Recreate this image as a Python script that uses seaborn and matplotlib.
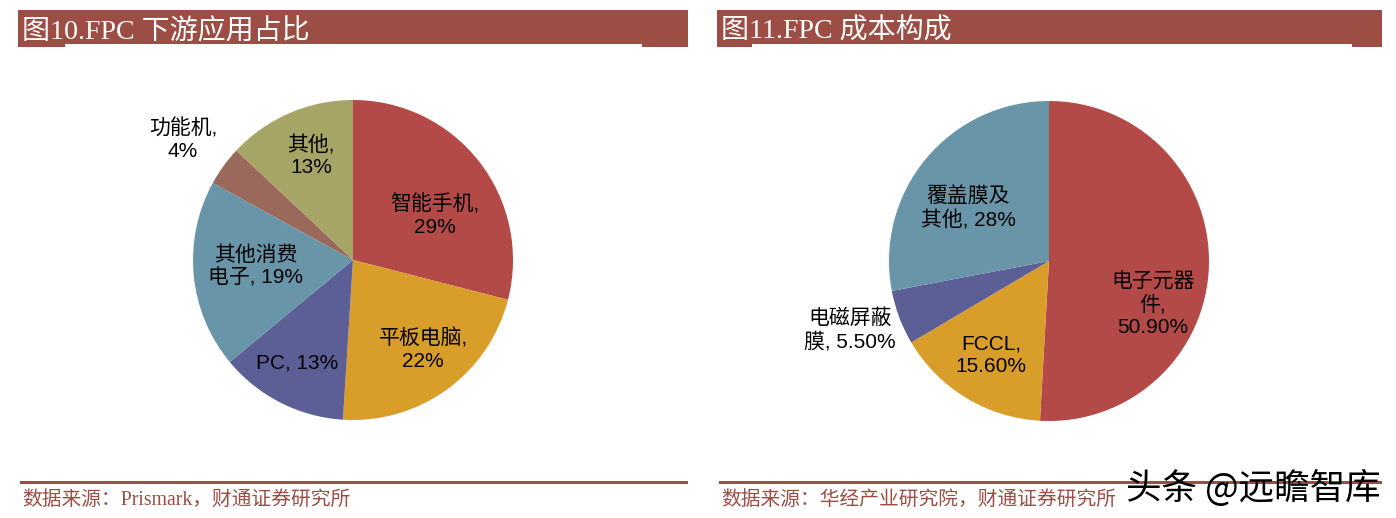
import matplotlib
matplotlib.use("Agg")
import matplotlib.pyplot as plt
import seaborn as sns
import numpy as np
from matplotlib.patches import Rectangle

# ---------------- data ----------------
app_labels = ["智能手机", "平板电脑", "PC", "其他消费电子", "功能机", "其他"]
app_values = [29, 22, 13, 19, 4, 13]
app_texts = ["智能手机,\n29%", "平板电脑,\n22%", "PC, 13%", "其他消费\n电子, 19%", "功能机,\n4%", "其他,\n13%"]

cost_labels = ["电子元器件", "FCCL", "电磁屏蔽膜", "覆盖膜及其他"]
cost_values = [50.9, 15.6, 5.5, 28.0]
cost_texts = ["电子元器\n件,\n50.90%", "FCCL,\n15.60%", "电磁屏蔽\n膜, 5.50%", "覆盖膜及\n其他, 28%"]

titles = ["图10.FPC 下游应用占比", "图11.FPC 成本构成"]
sources = ["数据来源：Prismark，财通证券研究所", "数据来源：华经产业研究院，财通证券研究所"]
watermark = "头条 @远瞻智库"

# ---------------- style ----------------
sns.set_theme(style="white")
plt.rcParams["font.family"] = ["Liberation Sans", "Noto Sans CJK SC", "DejaVu Sans"]

app_colors = sns.color_palette(["#B34A47", "#D99D29", "#5B5F96", "#6895A8", "#9B695B", "#A7A565"])
cost_colors = sns.color_palette(["#B34A47", "#D99D29", "#5B5F96", "#6895A8"])
BAR = "#9C4D44"

W, H, DPI = 1396, 518, 100
fig = plt.figure(figsize=(W / DPI, H / DPI), dpi=DPI)
fig.patch.set_facecolor("white")


def fx(px):
    return px / W


def fy(py):
    return 1 - py / H


def rect(x0, y0, x1, y1, color):
    fig.add_artist(Rectangle((fx(x0), fy(y1)), fx(x1) - fx(x0), fy(y0) - fy(y1),
                             transform=fig.transFigure, facecolor=color,
                             edgecolor="none", zorder=1))


# title bars
bars = [(18, 688, 65, 642), (717, 1382, 752, 1352)]
for (x0, x1, w0, w1), t in zip(bars, titles):
    rect(x0, 10, x1, 47, BAR)
    rect(w0, 44.5, w1, 47, "white")
    fig.text(fx(x0 + 4), fy(32), t, color="white", fontsize=20.2,
             family=["Liberation Serif", "Noto Sans CJK SC"], va="center", ha="left", zorder=3)

# bottom rules and sources
for (x0, x1, _, _), s in zip(bars, sources):
    rect(x0 + 2, 481, x1, 483.5, BAR)
    fig.text(fx(x0 + 4), fy(500.5), s, color=BAR, fontsize=14.2,
             family=["Liberation Serif", "Noto Sans CJK SC"], va="center", ha="left", zorder=3)

fig.text(fx(1126), fy(488), watermark, color="black", fontsize=25.6,
         family=["Noto Sans CJK SC", "DejaVu Sans"], va="center", ha="left", zorder=4)

R = 160.0


def draw_pie(cx, cy, values, colors, texts, label_pos):
    ax = fig.add_axes([fx(cx - R), fy(cy + R), (2 * R) / W, (2 * R) / H])
    ax.pie(values, colors=colors, startangle=90, counterclock=False, radius=1,
           wedgeprops=dict(linewidth=0))
    ax.set_xlim(-1, 1)
    ax.set_ylim(-1, 1)
    ax.set_aspect("equal")
    ax.axis("off")
    for t, (px, py) in zip(texts, label_pos):
        ax.text((px - cx) / R, (cy - py) / R, t, ha="center", va="center",
                fontsize=15, linespacing=1.22, color="black", clip_on=False)
    return ax


app_label_pos = [(435, 216), (423, 350), (297, 363), (256, 266), (183, 140), (311, 156)]
cost_label_pos = [(1153, 305), (991, 355), (850, 330), (968, 208)]

draw_pie(353, 260, app_values, app_colors, app_texts, app_label_pos)
draw_pie(1049, 261, cost_values, cost_colors, cost_texts, cost_label_pos)

fig.savefig("out.png", dpi=DPI, facecolor="white")
